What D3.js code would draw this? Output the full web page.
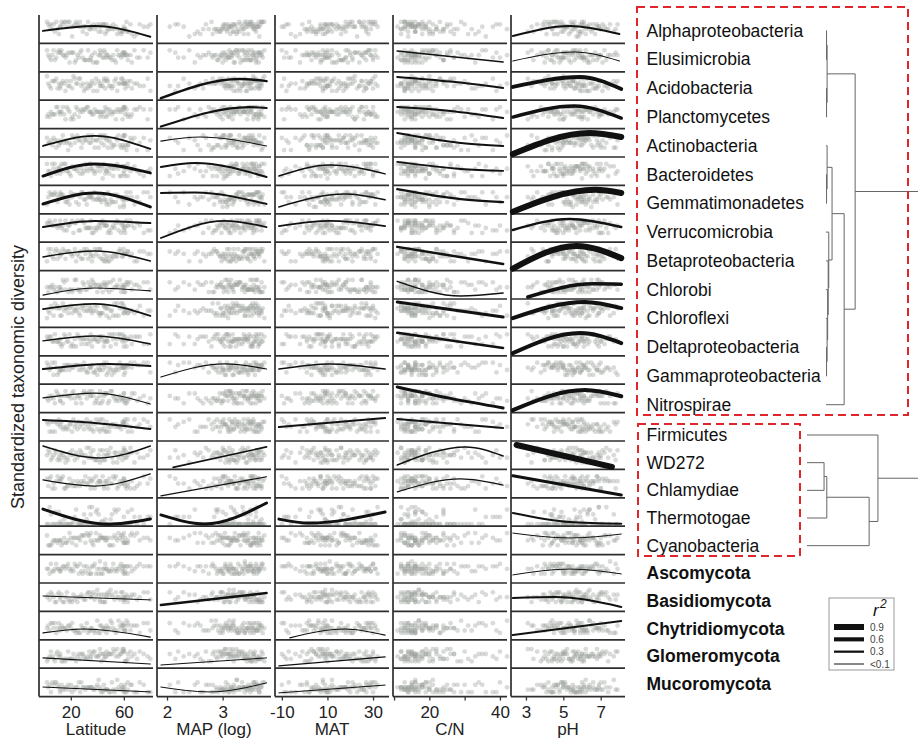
<!DOCTYPE html>
<html>
<head>
<meta charset="utf-8">
<script src="https://cdn.jsdelivr.net/npm/d3@7"></script>
<style>
  body { margin: 0; background: #fff; }
  svg text { font-family: "Liberation Sans", Arial, sans-serif; }
  .tick text, .axis-title { font-family: "Liberation Sans Narrow", "Arial Narrow", "Liberation Sans", sans-serif; }
</style>
</head>
<body>
<svg id="chart" width="918" height="741"></svg>
<script>
// ---- data ----
const variables = ['Latitude', 'MAP (log)', 'MAT', 'C/N', 'pH'];
const varDomains = [[-4, 82], [1.82, 3.87], [-13, 37], [9.7, 42], [2.2, 8.3]];
const tickValues = [[20, 60], [2, 3], [-10, 10, 30], [10, 20, 30, 40], [3, 5, 7]];
const tickLabels = [[20, 60], [2, 3], [-10, 10, 30], [20, 40], [3, 5, 7]];

const taxa = ['Alphaproteobacteria', 'Elusimicrobia', 'Acidobacteria', 'Planctomycetes',
  'Actinobacteria', 'Bacteroidetes', 'Gemmatimonadetes', 'Verrucomicrobia', 'Betaproteobacteria',
  'Chlorobi', 'Chloroflexi', 'Deltaproteobacteria', 'Gammaproteobacteria', 'Nitrospirae',
  'Firmicutes', 'WD272', 'Chlamydiae', 'Thermotogae', 'Cyanobacteria',
  'Ascomycota', 'Basidiomycota', 'Chytridiomycota', 'Glomeromycota', 'Mucoromycota'];
const fungi = ['Ascomycota', 'Basidiomycota', 'Chytridiomycota', 'Glomeromycota', 'Mucoromycota'];

// site values of the environmental variables
const latitude = [12,45,60,33,8,52,22,70,40,60, 15,28,47,5,61,36,19,55,78,42, 10,63,25,50,2,38,66,17,44,59,
  30,13,48,72,21,39,57,7,34,62, 26,46,3,53,75,16,41,60,23,49, 11,65,31,43,9,56,37,20,68,35,
  14,51,27,59,4,45,32,61,18,54, 29,80,6,42,24,58,12,47,35,63];
const mapLog = [3.45,3.10,2.85,3.30,3.60,3.05,3.55,2.60,3.20,3.00, 3.70,3.35,2.95,3.50,2.75,3.15,3.65,3.25,2.30,3.40,
  3.58,2.90,3.48,3.12,3.75,3.28,2.50,3.62,3.02,3.18, 3.42,3.52,2.98,2.20,3.66,3.22,3.08,3.46,3.36,2.80,
  3.56,3.14,3.68,2.92,2.05,3.44,3.26,3.04,3.60,3.10, 3.38,2.70,3.52,3.20,3.72,2.88,3.32,3.64,2.40,3.16,
  3.54,3.06,3.40,2.96,3.62,3.24,3.46,2.65,3.70,3.00, 3.30,2.15,3.56,3.12,3.50,2.82,3.66,3.18,3.38,2.55];
const mat = [26,9,2,18,27,7,22,-6,12,4, 29,19,10,30,1,15,24,8,-9,11, 27,3,20,9,31,14,-2,25,10,6,
  17,28,8,-7,23,13,5,29,16,2, 21,9,31,7,-10,26,12,3,19,11, 28,-1,15,10,30,6,14,22,-4,18,
  25,8,20,4,32,12,16,0,24,7, 18,-8,29,10,21,5,27,9,17,1];
const cn = [14,18,22,13,16,25,15,31,17,20, 12,19,23,14,28,16,13,21,38,15, 18,24,14,17,20,12,33,16,19,26,
  13,15,22,40,14,18,16,21,12,29, 15,20,17,24,35,13,16,19,14,27, 18,30,13,21,16,42,15,25,36,11,
  17,19,23,14,15,26,12,32,18,16, 20,39,13,22,14,27,16,15,24,34];
const ph = [5.2,6.1,4.4,5.6,4.9,6.8,5.0,4.1,6.4,5.5, 4.6,7.2,5.9,4.3,3.8,6.9,5.4,6.2,4.8,7.5,
  5.1,3.4,6.6,5.7,4.2,7.8,4.5,5.3,6.0,3.1, 6.3,4.7,7.0,5.0,5.8,4.0,6.5,5.5,7.3,4.4,
  5.1,6.7,3.9,5.6,4.6,6.0,7.7,5.2,4.8,6.2, 5.9,3.6,6.8,5.4,4.9,6.4,7.1,5.0,5.7,6.1,
  5.5,6.6,4.5,5.8,6.9,4.2,5.3,7.4,4.0,6.3, 5.0,5.9,7.0,3.3,6.1,4.7,5.6,7.9,4.4,6.0];
const envData = [latitude, mapLog, mat, cn, ph];

// standardized diversity per taxon (rows follow `taxa`), 0-10 within each panel
const diversity = [
  [6,7,5,8,4,7,6,3,7,5, 8,6,4,7,5,6,8,3,6,7, 5,4,7,6,8,5,3,6,7,4, 6,8,5,7,2,6,4,7,5,8, 6,3,7,5,6,8,4,6,7,5, 3,7,6,4,8,5,7,6,2,6, 7,5,8,4,6,7,3,5,8,6, 4,7,5,6,8,3,6,7,5,4],
  [7,5,6,8,4,6,7,5,3,7, 6,8,5,4,7,6,3,8,5,6, 7,4,6,5,8,7,3,6,5,7, 4,8,6,5,7,3,6,8,4,6, 5,7,6,4,8,5,6,7,3,5, 8,6,4,7,5,6,3,7,8,5, 6,4,7,6,5,8,4,6,7,3, 5,7,6,8,4,5,7,6,4,6],
  [5,8,6,4,7,5,9,6,3,7, 6,5,8,4,6,7,5,3,8,6, 4,7,6,5,9,6,4,7,5,8, 3,6,7,5,4,8,6,7,5,6, 8,4,6,7,5,3,7,6,8,5, 6,7,4,5,8,6,3,7,6,5, 7,4,8,6,5,7,6,4,5,8, 6,3,7,5,6,8,4,7,6,5],
  [6,4,7,8,5,6,3,7,6,8, 5,7,4,6,8,5,6,7,3,6, 8,5,7,6,4,7,5,8,6,3, 7,6,5,8,4,6,7,5,6,7, 4,8,5,6,7,3,6,8,5,7, 6,4,7,5,8,6,5,3,7,6, 8,5,6,7,4,6,8,5,7,3, 6,7,5,4,8,6,5,7,6,4],
  [5,7,3,8,6,4,7,2,6,8, 5,3,7,6,4,8,5,6,2,7, 6,4,8,5,7,3,6,5,8,4, 7,6,3,5,8,6,4,7,5,2, 6,8,5,4,7,6,3,8,5,6, 4,7,6,5,3,8,6,4,7,5, 8,3,6,7,5,4,6,8,2,7, 5,6,4,8,7,3,5,6,7,4],
  [4,6,7,5,8,3,6,5,7,4, 8,6,5,3,7,6,4,8,5,7, 6,3,5,7,8,4,6,5,2,7, 5,8,6,4,7,5,3,6,8,6, 7,4,5,6,3,8,7,5,6,4, 6,5,8,7,4,6,5,3,7,8, 5,6,4,7,5,8,6,3,5,7, 4,6,8,5,6,3,7,5,6,8],
  [7,5,3,6,8,4,7,6,5,2, 6,8,4,7,5,6,3,7,8,5, 4,6,7,5,3,8,6,4,7,6, 5,7,8,4,6,5,2,7,6,8, 3,5,6,7,8,4,6,5,7,3, 6,8,5,4,7,6,5,8,3,6, 7,4,6,5,8,7,3,6,5,4, 8,6,7,5,4,6,8,3,7,5],
  [6,7,4,5,8,6,3,7,5,6, 4,8,6,7,5,3,6,8,4,7, 5,6,8,3,7,5,6,4,8,6, 7,5,3,6,8,4,7,6,5,8, 4,6,7,5,3,8,6,5,7,4, 6,8,5,7,6,4,3,7,5,8, 6,5,4,7,8,6,5,3,6,7, 8,4,6,5,7,3,8,6,5,6],
  [5,6,8,4,7,5,6,3,8,6, 7,4,5,8,6,3,7,5,6,8, 4,7,6,5,3,8,6,7,4,5, 8,6,3,7,5,6,8,4,7,6, 5,3,8,6,7,4,5,6,8,3, 7,5,6,4,8,7,5,6,3,6, 8,4,7,5,6,3,8,6,7,5, 4,6,5,8,3,7,6,4,5,7],
  [3,5,2,6,4,7,3,5,2,4, 6,3,5,4,2,7,3,5,6,4, 2,5,3,6,4,5,3,7,2,4, 5,3,6,4,2,5,7,3,4,6, 3,5,2,4,6,3,5,4,7,2, 4,6,3,5,2,4,6,3,5,4, 7,3,2,5,4,6,3,5,2,4, 6,3,5,4,7,2,4,3,5,6],
  [7,8,5,6,9,4,7,6,8,5, 6,7,4,8,6,5,7,9,6,4, 8,5,7,6,3,8,6,7,5,9, 6,4,7,8,5,6,7,4,8,6, 5,7,6,9,4,7,5,8,6,3, 7,6,8,5,7,4,6,8,5,7, 9,6,4,7,5,8,6,7,5,4, 8,6,7,5,6,9,4,7,6,5],
  [6,5,7,4,8,6,3,7,5,6, 8,4,6,7,5,3,8,6,4,7, 5,6,8,3,7,6,4,5,7,8, 6,3,5,7,4,6,8,5,6,3, 7,5,6,8,4,7,5,3,6,8, 5,7,4,6,5,8,6,3,7,5, 4,8,6,5,7,3,6,7,5,4, 6,8,5,7,3,6,4,5,8,6],
  [5,7,6,4,8,5,6,7,3,6, 7,5,8,6,4,7,5,6,8,5, 3,6,7,5,8,4,6,7,5,6, 8,5,4,7,6,5,8,3,6,7, 5,6,7,4,8,5,6,3,7,6, 4,8,5,7,6,5,4,7,8,6, 5,3,7,6,5,8,4,6,7,5, 6,4,8,5,7,6,5,3,6,7],
  [4,6,5,7,3,6,8,4,5,7, 6,3,7,5,4,8,6,5,3,6, 7,4,6,8,5,3,7,6,4,5, 8,6,3,5,7,4,6,5,8,3, 6,7,4,5,6,8,3,7,5,4, 6,5,7,3,8,4,6,5,7,6, 3,8,5,4,6,7,5,3,6,4, 7,5,6,8,3,5,4,7,6,5],
  [6,4,7,5,3,6,8,5,4,7, 5,6,3,7,8,4,6,5,7,3, 6,8,4,5,7,6,3,5,8,6, 4,7,5,6,3,8,5,7,4,6, 7,3,6,5,8,4,7,6,5,3, 8,5,6,4,7,5,3,6,8,7, 4,6,5,7,3,6,8,5,4,6, 7,5,3,8,6,4,5,7,6,3],
  [5,3,6,4,7,2,5,6,3,8, 4,6,5,3,7,4,6,2,5,7, 3,6,4,8,5,3,6,4,7,5, 2,6,5,4,7,3,6,5,8,4, 5,3,7,6,4,2,5,7,3,6, 4,8,5,3,6,4,7,5,2,6, 5,4,7,3,6,5,8,4,3,6, 5,7,4,2,6,5,3,7,4,5],
  [6,4,7,5,3,8,6,4,5,7, 3,6,5,8,4,6,7,3,5,6, 8,4,6,5,7,3,6,4,8,5, 6,7,3,5,4,8,6,5,7,3, 5,6,4,7,8,3,6,5,4,7, 6,3,8,5,6,4,7,5,3,6, 8,5,4,6,7,3,5,6,4,8, 5,7,3,6,4,5,7,6,3,5],
  [0,0,3,0,5,0,1,0,6,0, 2,0,0,4,0,7,0,0,3,0, 0,5,0,2,0,0,6,0,1,0, 4,0,0,3,0,5,0,0,7,0, 0,2,0,6,0,0,4,0,3,0, 5,0,0,1,0,6,0,0,3,0, 0,4,0,0,7,0,2,0,0,5, 0,3,0,0,6,0,1,0,4,0],
  [5,6,4,7,5,3,6,8,5,4, 6,7,5,3,6,4,8,5,6,7, 4,5,6,3,7,5,8,4,6,5, 7,3,6,5,4,8,6,5,7,4, 6,5,3,7,6,4,5,8,6,3, 5,7,4,6,5,8,3,6,7,5, 4,6,5,7,3,6,8,4,5,6, 7,5,4,6,3,7,5,6,8,4],
  [4,5,6,3,5,7,4,6,5,3, 6,4,5,7,3,6,5,4,6,8, 5,3,6,4,5,7,4,6,3,5, 6,5,4,7,5,3,6,4,5,6, 3,7,5,4,6,5,3,6,7,4, 5,6,4,3,7,5,6,4,5,3, 6,5,7,4,3,5,6,4,7,5, 3,6,4,5,6,7,4,5,3,6],
  [5,6,4,7,3,5,6,4,8,5, 3,6,5,7,4,6,3,5,7,4, 6,5,3,8,5,4,6,7,3,5, 4,6,7,5,3,6,4,5,7,6, 5,3,6,4,7,5,6,3,4,6, 7,5,4,6,3,5,7,4,6,5, 3,6,5,7,4,3,6,5,4,7, 5,4,6,3,5,7,4,6,5,3],
  [4,3,5,2,6,4,3,5,7,3, 4,5,2,6,3,4,5,3,6,2, 4,5,3,7,4,2,5,3,4,6, 3,5,4,2,6,3,5,4,3,7, 2,4,5,3,6,4,2,5,3,4, 6,3,4,5,2,7,3,4,5,3, 4,6,2,5,3,4,6,3,5,2, 4,3,6,5,2,4,3,5,4,6],
  [5,3,6,4,2,7,5,3,4,6, 3,5,4,6,2,5,3,7,4,5, 6,3,4,5,2,6,4,3,5,7, 4,2,5,6,3,4,5,3,6,2, 5,4,3,6,5,2,4,7,3,5, 4,6,3,2,5,4,6,3,5,4, 2,5,3,6,4,5,3,2,6,4, 5,3,4,7,2,5,4,6,3,5],
  [2,4,1,3,5,2,3,1,4,2, 3,5,2,1,4,3,2,6,1,3, 4,2,3,1,5,2,4,3,1,2, 3,4,2,5,1,3,2,4,3,1, 5,2,3,1,4,2,6,3,2,1, 3,4,2,1,5,3,2,4,1,3, 2,5,1,3,4,2,3,1,4,2, 3,1,5,2,3,4,1,2,3,5]
];

// fitted curves: variable index v, r2, x in variable units, y in diversity units
const fits = [
  { taxon: 'Alphaproteobacteria', v: 0, r2: 0.25, x: [-1, 38, 80], y: [4.3, 6.3, 1.9] },
  { taxon: 'Alphaproteobacteria', v: 4, r2: 0.26, x: [2.3, 5.35, 8.0], y: [2.2, 6.3, 3.0] },
  { taxon: 'Elusimicrobia', v: 3, r2: 0.2, x: [10.9, 40.9], y: [7.7, 3.2] },
  { taxon: 'Elusimicrobia', v: 4, r2: 0.12, x: [2.3, 5.6, 8.0], y: [3.6, 7.3, 3.6] },
  { taxon: 'Acidobacteria', v: 1, r2: 0.34, x: [1.89, 3.3, 3.79], y: [0, 7.9, 7.0] },
  { taxon: 'Acidobacteria', v: 3, r2: 0.26, x: [10.9, 26, 40.9], y: [8.7, 6.8, 4.2] },
  { taxon: 'Acidobacteria', v: 4, r2: 0.55, x: [2.3, 5.9, 8.1], y: [4.6, 8.7, 3.8] },
  { taxon: 'Planctomycetes', v: 1, r2: 0.28, x: [1.89, 3.48, 3.79], y: [0, 8.0, 7.6] },
  { taxon: 'Planctomycetes', v: 3, r2: 0.26, x: [10.9, 26, 40.9], y: [8.0, 6.4, 3.5] },
  { taxon: 'Planctomycetes', v: 4, r2: 0.5, x: [2.3, 5.6, 8.1], y: [3.9, 8.4, 3.5] },
  { taxon: 'Actinobacteria', v: 0, r2: 0.23, x: [-1, 38, 80], y: [3.7, 7.8, 2.5] },
  { taxon: 'Actinobacteria', v: 1, r2: 0.12, x: [1.89, 2.59, 3.79], y: [5.7, 7.4, 3.7] },
  { taxon: 'Actinobacteria', v: 3, r2: 0.28, x: [10.9, 28.9, 40.9], y: [9.0, 4.9, 3.7] },
  { taxon: 'Actinobacteria', v: 4, r2: 0.9, x: [2.3, 6.4, 8.1], y: [0.4, 9.0, 7.4] },
  { taxon: 'Bacteroidetes', v: 0, r2: 0.42, x: [-1, 38, 80], y: [3.0, 8.0, 4.3] },
  { taxon: 'Bacteroidetes', v: 1, r2: 0.26, x: [1.89, 2.5, 3.79], y: [6.7, 8.4, 2.6] },
  { taxon: 'Bacteroidetes', v: 2, r2: 0.18, x: [-11.3, 11.1, 35.3], y: [3.0, 7.5, 3.9] },
  { taxon: 'Bacteroidetes', v: 3, r2: 0.23, x: [10.9, 28.9, 40.9], y: [8.8, 5.9, 5.1] },
  { taxon: 'Gemmatimonadetes', v: 0, r2: 0.42, x: [-1, 38, 80], y: [3.2, 7.7, 2.0] },
  { taxon: 'Gemmatimonadetes', v: 1, r2: 0.23, x: [1.89, 2.5, 3.79], y: [7.7, 7.9, 3.2] },
  { taxon: 'Gemmatimonadetes', v: 2, r2: 0.18, x: [-11.3, 17.7, 35.3], y: [2.0, 7.3, 4.9] },
  { taxon: 'Gemmatimonadetes', v: 3, r2: 0.3, x: [10.9, 28.9, 40.9], y: [9.3, 5.2, 4.0] },
  { taxon: 'Gemmatimonadetes', v: 4, r2: 0.9, x: [2.3, 6.7, 8.1], y: [0, 9.0, 7.7] },
  { taxon: 'Verrucomicrobia', v: 0, r2: 0.26, x: [-1, 38, 80], y: [5.4, 7.9, 7.0] },
  { taxon: 'Verrucomicrobia', v: 1, r2: 0.23, x: [1.89, 3.04, 3.79], y: [0.9, 7.9, 5.4] },
  { taxon: 'Verrucomicrobia', v: 2, r2: 0.23, x: [-11.3, 11.1, 35.3], y: [5.8, 7.9, 5.8] },
  { taxon: 'Verrucomicrobia', v: 4, r2: 0.34, x: [2.3, 5.35, 8.1], y: [4.2, 8.7, 5.4] },
  { taxon: 'Betaproteobacteria', v: 0, r2: 0.18, x: [-1, 38, 80], y: [4.8, 7.2, 3.1] },
  { taxon: 'Betaproteobacteria', v: 3, r2: 0.34, x: [10.9, 40.9], y: [8.9, 1.9] },
  { taxon: 'Betaproteobacteria', v: 4, r2: 0.9, x: [2.3, 5.7, 8.1], y: [0, 9.3, 4.3] },
  { taxon: 'Chlorobi', v: 0, r2: 0.13, x: [-1, 38, 80], y: [0.8, 3.7, 2.5] },
  { taxon: 'Chlorobi', v: 3, r2: 0.18, x: [10.9, 28.9, 40.9], y: [6.4, 0.4, 1.6] },
  { taxon: 'Chlorobi', v: 4, r2: 0.5, x: [3.1, 6.6, 8.1], y: [0, 5.4, 5.2] },
  { taxon: 'Chloroflexi', v: 0, r2: 0.23, x: [-1, 38, 80], y: [6.7, 8.8, 3.9] },
  { taxon: 'Chloroflexi', v: 3, r2: 0.42, x: [10.9, 40.9], y: [9.6, 3.4] },
  { taxon: 'Chloroflexi', v: 4, r2: 0.58, x: [2.3, 6.15, 8.1], y: [3.0, 9.6, 7.1] },
  { taxon: 'Deltaproteobacteria', v: 0, r2: 0.18, x: [-1, 38, 80], y: [5.3, 7.3, 4.0] },
  { taxon: 'Deltaproteobacteria', v: 3, r2: 0.34, x: [10.9, 40.9], y: [8.6, 2.4] },
  { taxon: 'Deltaproteobacteria', v: 4, r2: 0.58, x: [2.3, 5.9, 8.1], y: [0.3, 8.5, 4.4] },
  { taxon: 'Gammaproteobacteria', v: 0, r2: 0.26, x: [-1, 49, 80], y: [5.4, 7.5, 6.6] },
  { taxon: 'Gammaproteobacteria', v: 1, r2: 0.12, x: [1.89, 3.04, 3.79], y: [2.1, 7.5, 5.4] },
  { taxon: 'Gammaproteobacteria', v: 2, r2: 0.18, x: [-11.3, 11.1, 35.3], y: [5.4, 7.5, 5.4] },
  { taxon: 'Nitrospirae', v: 0, r2: 0.13, x: [-1, 38, 80], y: [5.2, 7.2, 2.7] },
  { taxon: 'Nitrospirae', v: 3, r2: 0.42, x: [10.9, 26, 40.9], y: [9.7, 5.0, 1.1] },
  { taxon: 'Nitrospirae', v: 4, r2: 0.58, x: [2.3, 6.15, 8.1], y: [0.2, 8.4, 5.9] },
  { taxon: 'Firmicutes', v: 0, r2: 0.26, x: [-1, 38, 80], y: [7.8, 6.6, 4.1] },
  { taxon: 'Firmicutes', v: 2, r2: 0.26, x: [-11.3, 35.3], y: [4.9, 8.6] },
  { taxon: 'Firmicutes', v: 3, r2: 0.26, x: [10.9, 40.9], y: [8.2, 4.5] },
  { taxon: 'WD272', v: 0, r2: 0.18, x: [-1, 42, 80], y: [8.8, 3.9, 8.8] },
  { taxon: 'WD272', v: 1, r2: 0.2, x: [2.11, 3.79], y: [0, 8.4] },
  { taxon: 'WD272', v: 3, r2: 0.18, x: [10.9, 30.3, 40.9], y: [1.0, 8.4, 4.7] },
  { taxon: 'WD272', v: 4, r2: 0.9, x: [2.5, 7.6], y: [9.2, 0.2] },
  { taxon: 'Chlamydiae', v: 0, r2: 0.13, x: [-1, 38, 80], y: [6.5, 4.0, 9.0] },
  { taxon: 'Chlamydiae', v: 1, r2: 0.13, x: [1.89, 3.79], y: [0, 7.8] },
  { taxon: 'Chlamydiae', v: 3, r2: 0.13, x: [10.9, 28.9, 40.9], y: [1.6, 6.9, 4.4] },
  { taxon: 'Chlamydiae', v: 4, r2: 0.42, x: [2.3, 8.1], y: [8.2, 0.3] },
  { taxon: 'Thermotogae', v: 0, r2: 0.42, x: [-1, 49, 80], y: [6.2, 0, 2.1] },
  { taxon: 'Thermotogae', v: 1, r2: 0.42, x: [1.89, 2.68, 3.79], y: [3.8, 0.1, 8.7] },
  { taxon: 'Thermotogae', v: 2, r2: 0.4, x: [-11.3, 2, 35.3], y: [2.1, 0.5, 5.0] },
  { taxon: 'Thermotogae', v: 4, r2: 0.26, x: [2.3, 5.35, 8.1], y: [4.6, 0.9, 0.2] },
  { taxon: 'Cyanobacteria', v: 4, r2: 0.1, x: [2.3, 5.35, 8.1], y: [8.0, 6.0, 7.6] },
  { taxon: 'Ascomycota', v: 4, r2: 0.1, x: [2.3, 5.35, 8.1], y: [2.5, 4.9, 2.9] },
  { taxon: 'Basidiomycota', v: 0, r2: 0.1, x: [-1, 80], y: [5.5, 3.9] },
  { taxon: 'Basidiomycota', v: 1, r2: 0.34, x: [1.89, 3.79], y: [1.8, 6.7] },
  { taxon: 'Basidiomycota', v: 4, r2: 0.26, x: [2.3, 4.55, 8.1], y: [4.7, 5.1, 1.0] },
  { taxon: 'Chytridiomycota', v: 0, r2: 0.13, x: [-1, 30, 80], y: [2.0, 3.6, 0.3] },
  { taxon: 'Chytridiomycota', v: 2, r2: 0.13, x: [-6.5, 17.7, 35.3], y: [0, 3.6, 1.1] },
  { taxon: 'Chytridiomycota', v: 4, r2: 0.26, x: [2.3, 8.1], y: [1.1, 6.9] },
  { taxon: 'Glomeromycota', v: 0, r2: 0.13, x: [-1, 80], y: [3.4, 0.9] },
  { taxon: 'Glomeromycota', v: 1, r2: 0.1, x: [1.89, 3.79], y: [0.5, 3.4] },
  { taxon: 'Glomeromycota', v: 2, r2: 0.13, x: [-11.3, 35.3], y: [0.1, 3.8] },
  { taxon: 'Mucoromycota', v: 0, r2: 0.1, x: [-1, 80], y: [3.1, 1.1] },
  { taxon: 'Mucoromycota', v: 1, r2: 0.1, x: [1.89, 2.77, 3.79], y: [3.1, 1.1, 4.8] },
  { taxon: 'Mucoromycota', v: 2, r2: 0.1, x: [-11.3, 35.3], y: [0.7, 3.9] }
];

// dendrograms: [height, child, child, ...], leaves are taxon names
const topTree = [0.53,
  [0.02, [0.01, 'Alphaproteobacteria', 'Elusimicrobia'], [0.01, 'Acidobacteria', 'Planctomycetes']],
  [0.33,
    [0.11,
      [0.02, 'Actinobacteria', [0.01, 'Bacteroidetes', 'Gemmatimonadetes']],
      [0.05, 'Verrucomicrobia', [0.04, 'Betaproteobacteria', [0.03, 'Chlorobi',
        [0.02, 'Chloroflexi', [0.01, 'Deltaproteobacteria', 'Gammaproteobacteria']]]]]],
    'Nitrospirae']];
const bottomTree = [1.29, 'Firmicutes',
  [1.13, [0.36, [0.31, 'WD272', 'Chlamydiae'], 'Thermotogae'], 'Cyanobacteria']];

const legendR2 = [0.9, 0.6, 0.3, 0.1];
const legendLabels = ['0.9', '0.6', '0.3', '<0.1'];

// ---- layout ----
const svg = d3.select('#chart');
const plotTop = 15, plotBottom = 696.6;

const col = d3.scaleBand().domain(variables).range([39, 625]).paddingInner(4 / 118);
const row = d3.scaleBand().domain(taxa).range([plotTop, plotBottom]);
const xScales = variables.map((v, i) =>
  d3.scaleLinear().domain(varDomains[i]).range([col(v), col(v) + col.bandwidth()]));
const yScale = t => d3.scaleLinear().domain([0, 10]).range([row(t) + row.bandwidth() - 2, row(t) + 2]);
const widthScale = d3.scaleLinear().domain([0.1, 0.9]).range([1, 6]);

const panels = svg.append('g');

// points
taxa.forEach((t, r) => {
  const ys = yScale(t);
  variables.forEach((v, c) => {
    panels.append('g').selectAll('circle')
      .data(diversity[r])
      .join('circle')
      .attr('cx', (d, s) => xScales[c](envData[c][s]))
      .attr('cy', d => ys(d))
      .attr('r', 2.4)
      .attr('fill', '#9ca19c')
      .attr('fill-opacity', 0.38);
  });
});

// row separators and column axes
variables.forEach(v => {
  panels.append('g').selectAll('line')
    .data(taxa)
    .join('line')
    .attr('x1', col(v)).attr('x2', col(v) + col.bandwidth())
    .attr('y1', t => row(t) + row.bandwidth()).attr('y2', t => row(t) + row.bandwidth())
    .attr('stroke', '#2e2e2e').attr('stroke-width', 1.7);
  panels.append('line')
    .attr('x1', col(v)).attr('x2', col(v))
    .attr('y1', plotTop).attr('y2', plotBottom)
    .attr('stroke', '#2e2e2e').attr('stroke-width', 1.7);
});

// fitted curves
const line = d3.line().curve(d3.curveMonotoneX);
fits.forEach(f => {
  const ys = yScale(f.taxon), xs = xScales[f.v];
  panels.append('path')
    .attr('d', line(f.x.map((x, i) => [xs(x), ys(f.y[i])])))
    .attr('fill', 'none')
    .attr('stroke', '#111')
    .attr('stroke-width', widthScale(f.r2))
    .attr('stroke-linecap', 'round');
});

// bottom axes
variables.forEach((v, i) => {
  const ax = svg.append('g')
    .attr('transform', `translate(0,${plotBottom})`)
    .call(d3.axisBottom(xScales[i]).tickValues(tickValues[i]).tickSize(4).tickSizeOuter(0)
      .tickPadding(5).tickFormat(d => tickLabels[i].includes(d) ? d : ''));
  ax.select('.domain').remove();
  ax.selectAll('line').attr('stroke', '#333').attr('stroke-width', 1.3);
  ax.selectAll('text').attr('font-size', 17).attr('fill', '#222');
  svg.append('text')
    .attr('class', 'axis-title')
    .attr('x', col(v) + col.bandwidth() / 2).attr('y', 735)
    .attr('text-anchor', 'middle').attr('font-size', 17).attr('fill', '#222')
    .text(v);
});

svg.append('text')
  .attr('transform', 'translate(24,377) rotate(-90)')
  .attr('text-anchor', 'middle').attr('font-size', 18).attr('fill', '#222')
  .text('Standardized taxonomic diversity');

// taxon labels
const upperLabels = d3.scalePoint().domain(taxa.slice(0, 14)).range([36.7, 410.7]);
const lowerLabels = d3.scalePoint().domain(taxa.slice(14)).range([441, 690]);
const labelY = t => taxa.indexOf(t) < 14 ? upperLabels(t) : lowerLabels(t);

svg.append('g').selectAll('text')
  .data(taxa)
  .join('text')
  .attr('x', 646.5).attr('y', t => labelY(t))
  .attr('font-size', 17.5).attr('fill', '#111')
  .attr('font-weight', t => fungi.includes(t) ? 'bold' : 'normal')
  .text(t => t);

// dendrograms
function drawTree(tree, x, g) {
  function walk(node) {
    if (typeof node === 'string') return { y: labelY(node) - 6, h: 0 };
    const kids = node.slice(1).map(walk);
    const h = node[0];
    const y = d3.mean(kids, k => k.y);
    g.append('line').attr('x1', x(h)).attr('x2', x(h))
      .attr('y1', d3.min(kids, k => k.y)).attr('y2', d3.max(kids, k => k.y));
    kids.forEach(k => g.append('line').attr('x1', x(k.h)).attr('x2', x(h)).attr('y1', k.y).attr('y2', k.y));
    return { y, h };
  }
  const root = walk(tree);
  g.append('line').attr('x1', x(root.h)).attr('x2', 918).attr('y1', root.y).attr('y2', root.y);
}
const dendro = svg.append('g').attr('stroke', '#666').attr('stroke-width', 1);
drawTree(topTree, d3.scaleLinear().domain([0, 1]).range([826, 881]), dendro);
drawTree(bottomTree, d3.scaleLinear().domain([0, 1]).range([807, 862]), dendro);

// red dashed group boxes
const boxes = svg.append('g').attr('fill', 'none').attr('stroke', '#e0262b')
  .attr('stroke-width', 2).attr('stroke-dasharray', '8,5');
boxes.append('rect').attr('x', 637).attr('y', 7).attr('width', 271).attr('height', 408);
boxes.append('rect').attr('x', 638).attr('y', 424).attr('width', 162).attr('height', 132);

// r2 legend
const leg = svg.append('g');
leg.append('rect').attr('x', 829).attr('y', 598).attr('width', 65).attr('height', 72)
  .attr('fill', '#fff').attr('stroke', '#999').attr('stroke-width', 1);
leg.append('text').attr('x', 873).attr('y', 616).attr('font-size', 17)
  .attr('font-style', 'italic').attr('fill', '#111').text('r');
leg.append('text').attr('x', 880).attr('y', 608).attr('font-size', 12)
  .attr('font-style', 'italic').attr('fill', '#111').text('2');
const legY = d3.scalePoint().domain(legendLabels).range([627, 664]);
legendR2.forEach((r2, i) => {
  const y = legY(legendLabels[i]);
  leg.append('line').attr('x1', 834).attr('x2', 864).attr('y1', y).attr('y2', y)
    .attr('stroke', '#111').attr('stroke-width', widthScale(r2));
  leg.append('text').attr('x', 870).attr('y', y + 3.5).attr('font-size', 10)
    .attr('fill', '#444').text(legendLabels[i]);
});
</script>
</body>
</html>
